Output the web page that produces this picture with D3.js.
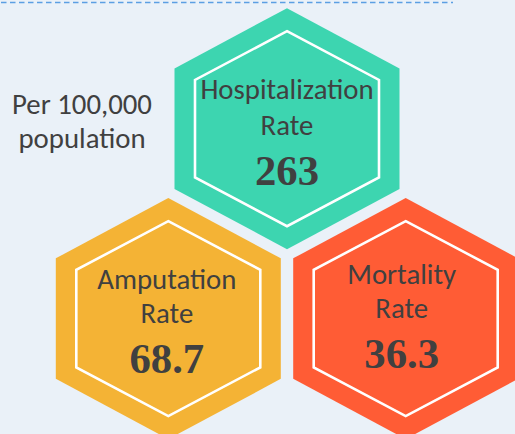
<!DOCTYPE html>
<html>
<head>
<meta charset="utf-8">
<script src="https://cdn.jsdelivr.net/npm/d3@7"></script>
<style>
  html, body { margin: 0; padding: 0; background: #eaf1f8; }
  svg { display: block; }
</style>
</head>
<body>
<svg id="chart" width="515" height="434"></svg>
<script>
// ---- data ----
const categories = ["Hospitalization", "Amputation", "Mortality"];
const labelSecond = ["Rate", "Rate", "Rate"];
const values = [263, 68.7, 36.3];
const valueLabels = ["263", "68.7", "36.3"];
const colors = ["#3dd5b0", "#f4b335", "#ff5c35"];
const unitLines = ["Per 100,000", "population"];

// ---- layout ----
const W = 515, H = 434;
const svg = d3.select("#chart");
svg.append("rect").attr("width", W).attr("height", H).attr("fill", "#eaf1f8");

// dashed top rule
svg.append("line")
  .attr("x1", 1).attr("x2", 453).attr("y1", 2.5).attr("y2", 2.5)
  .attr("stroke", "#5b9fe3").attr("stroke-width", 1.5)
  .attr("stroke-dasharray", "5.5,3.5");

// hex-grid positions (column, row) for each category
const gridCol = [1, 0, 2];
const gridRow = [0, 1, 1];
const x = d3.scaleLinear().domain([0, 2]).range([168.3, 405.7]);
const y = d3.scaleLinear().domain([0, 1]).range([128.7, 318.6]);

function hexPoints(halfW, R) {
  return [[0, -R], [halfW, -R / 2], [halfW, R / 2], [0, R], [-halfW, R / 2], [-halfW, -R / 2]];
}
const hexLine = d3.line().curve(d3.curveLinearClosed);

const cells = categories.map((c, i) => ({
  cat: c, second: labelSecond[i], value: values[i], label: valueLabels[i],
  color: colors[i], cx: x(gridCol[i]), cy: y(gridRow[i]), i
}));

// per-cell text offsets (relative to hex centre)
const textDx = [0, -1.5, -4];
const line1Dy = [-29.7, -29.8, -34.3];
const line2Dy = [6.3, 4.5, -0.6];
const valDy = [56.3, 54.5, 49];

const g = svg.selectAll("g.hex").data(cells).join("g")
  .attr("class", "hex")
  .attr("transform", d => `translate(${d.cx},${d.cy})`);

g.append("path")
  .attr("d", hexLine(hexPoints(112.5, 120.5)))
  .attr("fill", d => d.color);

g.append("path")
  .attr("d", hexLine(hexPoints(92, 97.5)))
  .attr("fill", "none")
  .attr("stroke", "#ffffff")
  .attr("stroke-width", 2.6);

const labelFont = "Carlito, Lato, 'Open Sans', sans-serif";
const valueFont = "'Liberation Serif', 'Times New Roman', serif";
const labelSize = 28.8;

g.append("text")
  .attr("x", d => textDx[d.i]).attr("y", d => line1Dy[d.i])
  .attr("text-anchor", "middle")
  .attr("font-family", labelFont).attr("font-size", labelSize)
  .attr("fill", "#404040")
  .text(d => d.cat);

g.append("text")
  .attr("x", d => textDx[d.i]).attr("y", d => line2Dy[d.i])
  .attr("text-anchor", "middle")
  .attr("font-family", labelFont).attr("font-size", labelSize)
  .attr("fill", "#404040")
  .text(d => d.second);

g.append("text")
  .attr("x", d => textDx[d.i]).attr("y", d => valDy[d.i])
  .attr("text-anchor", "middle")
  .attr("font-family", valueFont).attr("font-weight", "bold").attr("font-size", 42.7)
  .attr("fill", "#404040")
  .text(d => d.label);

// unit note
svg.append("text")
  .attr("x", 82).attr("y", 114.3)
  .attr("text-anchor", "middle")
  .attr("font-family", labelFont).attr("font-size", labelSize)
  .attr("fill", "#404040")
  .selectAll("tspan").data(unitLines).join("tspan")
  .attr("x", 82).attr("dy", (d, i) => i === 0 ? 0 : 34)
  .text(d => d);
</script>
</body>
</html>
